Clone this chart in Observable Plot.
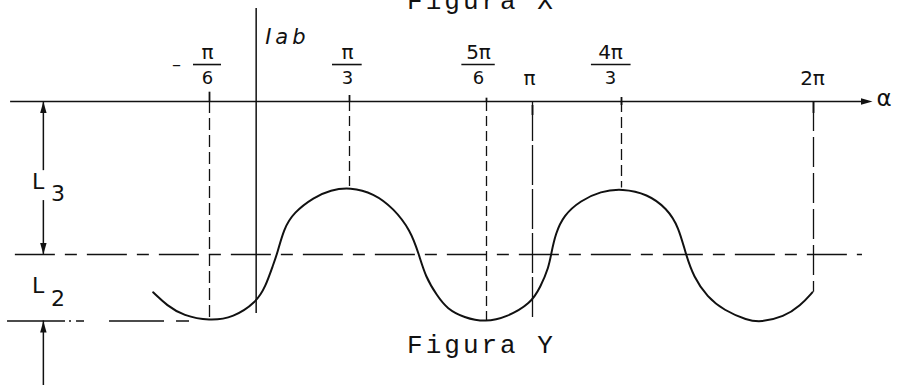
<!DOCTYPE html>
<html>
<head>
<meta charset="utf-8">
<script src="https://cdn.jsdelivr.net/npm/d3@7"></script>
<script src="https://cdn.jsdelivr.net/npm/@observablehq/plot@0.6"></script>
<style>
  html, body { margin: 0; padding: 0; background: #fff; overflow: hidden; }
  #chart svg { display: block; }
</style>
</head>
<body>
<div id="chart"></div>
<script>
// Angles are expressed in multiples of π.
const tickAngles = [-1/6, 1/3, 5/6, 1, 4/3, 2];
const tickSigns = ["–", "", "", "", "", ""];
const tickNumerators = ["π", "π", "5π", "π", "4π", "2π"];
const tickDenominators = ["6", "3", "6", "", "3", ""];

// Current levels below the α axis (L3 down to the mean line, L2 further down).
const levelAxis = 0;
const levelMid = -2.3;
const levelLow = -3.3;
const levelHigh = -1.3;

// Traced waveform i_ab(α).
const curveAlpha = [-0.368, -0.318, -0.260, -0.167, -0.081, 0.000, 0.033, 0.062, 0.075, 0.099,
  0.134, 0.206, 0.266, 0.335, 0.422, 0.495, 0.556, 0.586, 0.611, 0.653,
  0.690, 0.751, 0.830, 0.908, 0.993, 1.030, 1.061, 1.070, 1.086, 1.117,
  1.180, 1.255, 1.336, 1.423, 1.492, 1.532, 1.556, 1.584, 1.631, 1.689,
  1.770, 1.816, 1.897, 1.955, 1.996];
const curveValue = [-2.87, -3.07, -3.22, -3.30, -3.25, -3.02, -2.79, -2.44, -2.29, -1.91,
  -1.67, -1.44, -1.33, -1.29, -1.38, -1.61, -1.94, -2.29, -2.64, -2.92,
  -3.12, -3.25, -3.32, -3.24, -3.04, -2.79, -2.49, -2.29, -1.99, -1.71,
  -1.49, -1.35, -1.31, -1.39, -1.61, -1.89, -2.29, -2.64, -2.94, -3.14,
  -3.29, -3.32, -3.24, -3.07, -2.87];

// Where each dashed projection line stops on the waveform.
const guideEnds = [levelLow, levelHigh, levelLow, levelLow, levelHigh, curveValue[curveValue.length - 1]];

const ink = "#111";
const labelFont = "DejaVu Sans";
const monoFont = "Liberation Mono";

// The α axis is drawn by hand, so its tick spacing is slightly uneven:
// a piecewise-linear warp places each marked angle where it sits on the drawing.
const warp = d3.scaleLinear()
  .domain([-1/6, 1/3, 5/6, 1, 4/3, 2])
  .range([209, 349, 486, 532, 621, 813]);

// Filled arrowhead with its tip at the anchor point, pointing up before rotation.
const arrowHead = {
  draw(context, size) {
    const s = Math.sqrt(size), w = s * 0.28;
    context.moveTo(0, 0);
    context.lineTo(w, s);
    context.lineTo(-w, s);
    context.closePath();
  }
};

const guideDash = ["12,5", "10,5", "10,5", "40,4", "11,5", "30,6"];
const tickTop = [0.14, 0.09, 0.05, -0.06, 0.06, 0];
const tickBottom = [0, 0, 0, -0.21, -0.06, -0.18];
const labelNudge = [-2, -2, -8, -3, -11, -1];
const barHalf = [14, 15, 17, 0, 20, 0];

const dimX = -0.76;

const tickLabelMarks = tickAngles.flatMap((a, i) => {
  const marks = [];
  const frac = tickDenominators[i] !== "";
  marks.push(Plot.text([tickNumerators[i]], {
    x: a, y: frac ? 0.74 : 0.345, text: d => d, dx: labelNudge[i],
    fontSize: 20, fontFamily: labelFont, fill: ink
  }));
  if (frac) {
    const w = barHalf[i] / 280;
    marks.push(Plot.ruleY([0.556], {x1: a - w, x2: a + w, dx: labelNudge[i], stroke: ink, strokeWidth: 1.6}));
    marks.push(Plot.text([tickDenominators[i]], {
      x: a, y: 0.355, text: d => d, dx: labelNudge[i],
      fontSize: 18, fontFamily: labelFont, fill: ink
    }));
  }
  if (tickSigns[i]) {
    marks.push(Plot.text([tickSigns[i]], {
      x: a, y: 0.562, text: d => d, dx: -33, fontSize: 18, fontFamily: labelFont, fill: ink
    }));
  }
  return marks;
});

const svg = Plot.plot({
  width: 897,
  height: 385,
  marginTop: 0, marginRight: 0, marginBottom: 0, marginLeft: 0,
  x: {type: "linear", transform: warp, domain: [0, 897], range: [0, 897], axis: null},
  y: {domain: [-4.271, 1.519], axis: null},
  style: {background: "#fff", overflow: "visible"},
  marks: [
    // α axis and Iab axis
    Plot.ruleY([levelAxis], {x1: -0.877, x2: 2.19, stroke: ink, strokeWidth: 1.5}),
    Plot.ruleX([0], {y1: 1.398, y2: -3.188, stroke: ink, strokeWidth: 1.5}),

    // mean level and lower level
    Plot.ruleY([levelMid], {x1: -0.86, x2: 2.17, stroke: ink, strokeWidth: 1.4, strokeDasharray: "40,10,12,10"}),
    Plot.ruleY([levelLow], {x1: -0.888, x2: -0.217, stroke: ink, strokeWidth: 1.4, strokeDasharray: "58,4,2,5,8,25,55,12,13"}),

    // projection lines from the axis to the waveform
    ...tickAngles.map((a, i) => Plot.ruleX([a], {
      y1: levelAxis, y2: guideEnds[i], stroke: ink, strokeWidth: 1.3, strokeDasharray: guideDash[i]
    })),
    Plot.ruleX(tickAngles, {x: tickAngles, y1: tickTop, y2: tickBottom, stroke: ink, strokeWidth: 1.8}),

    // waveform
    Plot.line(curveAlpha, {x: curveAlpha, y: curveValue, curve: "basis", stroke: ink, strokeWidth: 2}),

    // dimension lines L3 and L2
    Plot.ruleX([dimX], {y1: levelAxis, y2: -1.04, stroke: ink, strokeWidth: 1.5}),
    Plot.ruleX([dimX], {y1: -1.49, y2: levelMid, stroke: ink, strokeWidth: 1.5}),
    Plot.ruleX([dimX], {y1: levelLow, y2: -4.4, stroke: ink, strokeWidth: 1.5}),
    Plot.dot([[dimX, levelAxis, 0], [dimX, levelMid, 180], [dimX, levelLow, 0], [2.205, levelAxis, 90]], {
      x: d => d[0], y: d => d[1], rotate: d => d[2], symbol: arrowHead, r: 6.5, fill: ink, stroke: null
    }),
    Plot.text(["L", "L"], {x: [-0.779, -0.779], y: [-1.203, -2.767], text: d => d, fontSize: 22, fontFamily: labelFont, fill: ink}),
    Plot.text(["3", "2"], {x: [-0.708, -0.708], y: [-1.383, -2.962], text: d => d, fontSize: 22, fontFamily: labelFont, fill: ink}),

    // tick labels
    ...tickLabelMarks,
    Plot.text(["α"], {x: 2.245, y: 0.036, text: d => d, fontSize: 23, fontFamily: labelFont, fill: ink}),
    Plot.text(["Iab"], {x: 0, y: 0.973, text: d => d, dx: 9, textAnchor: "start", fontSize: 21, fontStyle: "italic", fontFamily: labelFont, fill: ink}),

    // figure captions
    Plot.text(["Figura X"], {x: 0.815, y: 1.523, text: d => d, fontSize: 26, fontFamily: monoFont, fill: ink}),
    Plot.text(["Figura Y"], {x: 0.815, y: -3.65, text: d => d, fontSize: 26, fontFamily: monoFont, fill: ink})
  ]
});

svg.querySelectorAll("text").forEach(t => {
  const s = t.textContent;
  if (s.startsWith("Figura")) t.setAttribute("letter-spacing", "3");
  if (s === "Iab") t.setAttribute("letter-spacing", "4");
});

document.getElementById("chart").append(svg);
</script>
</body>
</html>
